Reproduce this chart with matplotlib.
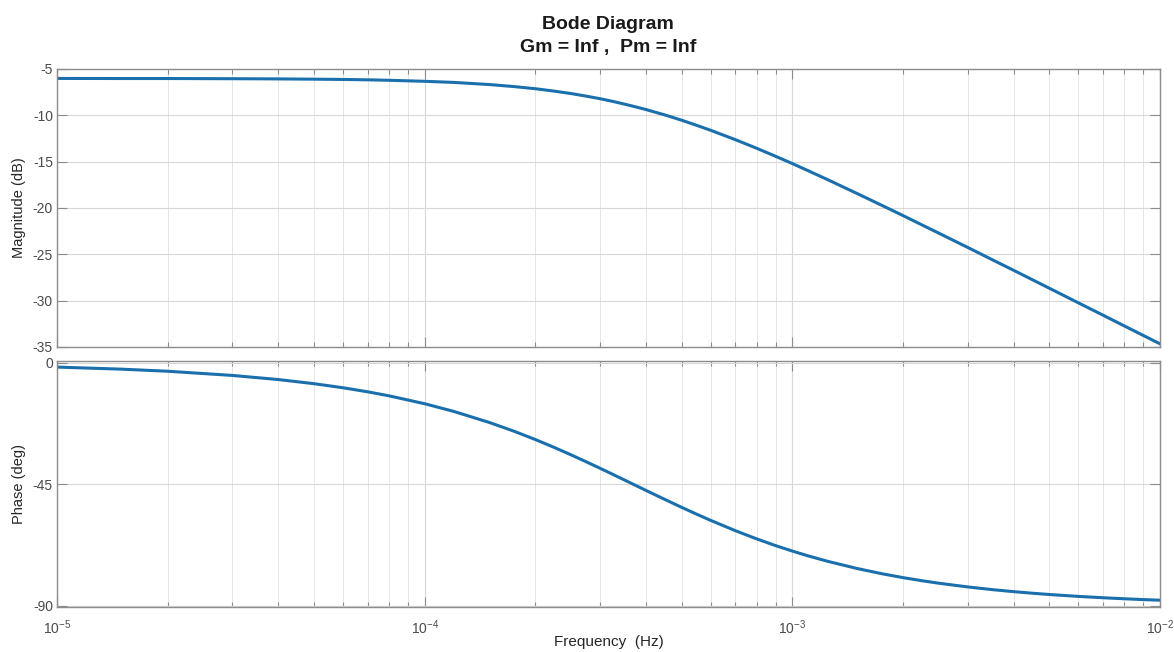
#!/usr/bin/env python3
import matplotlib
matplotlib.use("Agg")
import matplotlib.pyplot as plt
from matplotlib.ticker import FixedLocator, LogLocator, NullFormatter


# values
freq_hz = [1e-5, 1.5e-5, 2e-5, 3e-5, 4e-5, 5e-5, 6e-5, 7e-5, 8e-5, 1e-4,
           1.2e-4, 1.5e-4, 1.75e-4, 2e-4, 2.25e-4, 2.5e-4, 2.75e-4, 3e-4, 3.25e-4, 3.5e-4,
           3.75e-4, 4e-4, 4.5e-4, 5e-4, 5.5e-4, 6e-4, 7e-4, 8e-4, 9e-4, 1e-3,
           1.1e-3, 1.25e-3, 1.5e-3, 1.75e-3, 2e-3, 2.25e-3, 2.5e-3, 3e-3, 3.5e-3, 4e-3,
           4.5e-3, 5e-3, 6e-3, 7e-3, 8e-3, 9e-3, 1e-2]
mag_db = [-6.02, -6.03, -6.03, -6.05, -6.07, -6.10, -6.13, -6.17, -6.22, -6.33,
          -6.45, -6.68, -6.90, -7.13, -7.39, -7.65, -7.93, -8.21, -8.50, -8.80,
          -9.09, -9.38, -9.96, -10.53, -11.09, -11.62, -12.63, -13.56, -14.42, -15.21,
          -15.95, -16.96, -18.44, -19.71, -20.82, -21.82, -22.71, -24.26, -25.59, -26.73,
          -27.75, -28.66, -30.24, -31.57, -32.73, -33.75, -34.66]
phase_deg = [-1.55, -2.32, -3.09, -4.64, -6.17, -7.70, -9.21, -10.71, -12.20, -15.12,
             -17.97, -22.07, -25.31, -28.39, -31.30, -34.05, -36.62, -39.04, -41.30, -43.41,
             -45.39, -47.24, -50.57, -53.50, -56.07, -58.34, -62.14, -65.18, -67.65, -69.69,
             -71.41, -73.51, -76.14, -78.06, -79.52, -80.66, -81.58, -82.97, -83.97, -84.71,
             -85.30, -85.77, -86.47, -86.97, -87.35, -87.65, -87.88]

mag_ticks = [-35, -30, -25, -20, -15, -10, -5]
phase_ticks = [-90, -45, 0]
freq_ticks = [1e-5, 1e-4, 1e-3, 1e-2]
freq_ticklabels = [r"$10^{-5}$", r"$10^{-4}$", r"$10^{-3}$", r"$10^{-2}$"]

plt.rcParams["font.family"] = ["Liberation Sans", "DejaVu Sans"]
plt.rcParams["mathtext.fontset"] = "custom"
plt.rcParams["mathtext.rm"] = "Liberation Sans"
plt.rcParams["mathtext.default"] = "regular"

LINE = "#1a6fad"
SPINE = "#8c8c8c"
TXT = "#4a4a4a"

fig = plt.figure(figsize=(11.74, 6.52), dpi=100)
ax_mag = fig.add_axes([0.0486, 0.4678, 0.9395, 0.4264])
ax_ph = fig.add_axes([0.0486, 0.0690, 0.9395, 0.3773])


def style_axes(ax):
    ax.set_xscale("log")
    ax.set_xlim(1e-5, 1e-2)
    ax.xaxis.set_major_locator(FixedLocator(freq_ticks))
    ax.xaxis.set_minor_locator(LogLocator(base=10, subs=range(2, 10), numticks=20))
    ax.xaxis.set_minor_formatter(NullFormatter())
    ax.grid(True, which="major", color="#d8d8d8", linewidth=0.8)
    ax.grid(True, which="minor", axis="x", color="#e6e6e6", linewidth=0.7)
    ax.set_axisbelow(True)
    for sp in ax.spines.values():
        sp.set_color(SPINE)
        sp.set_linewidth(1.0)
    ax.tick_params(which="major", direction="in", length=7.5, width=0.8, color=SPINE,
                   top=True, right=True, labelsize=10, labelcolor=TXT, pad=3)
    ax.tick_params(which="minor", direction="in", length=3.5, width=0.8, color=SPINE,
                   top=True, right=True)


ax_mag.plot(freq_hz, mag_db, color=LINE, linewidth=2.2)
style_axes(ax_mag)
ax_mag.set_ylim(-35, -5)
ax_mag.set_yticks(mag_ticks)
ax_mag.set_yticklabels([str(t) for t in mag_ticks])
ax_mag.set_xticklabels([])
ax_mag.set_ylabel("Magnitude (dB)", fontsize=10.5, color="#262626")
ax_mag.yaxis.set_label_coords(-0.028, 0.5)

ax_ph.plot(freq_hz, phase_deg, color=LINE, linewidth=2.2)
style_axes(ax_ph)
ax_ph.set_ylim(-90.4, 0.7)
ax_ph.set_yticks(phase_ticks)
ax_ph.set_yticklabels([str(t) for t in phase_ticks])
ax_ph.set_xticklabels(freq_ticklabels)
ax_ph.tick_params(axis="x", which="major", pad=8)
ax_ph.set_ylabel("Phase (deg)", fontsize=10.5, color="#262626")
ax_ph.yaxis.set_label_coords(-0.028, 0.5)
ax_ph.set_xlabel("Frequency  (Hz)", fontsize=11, color="#262626")
ax_ph.xaxis.set_label_coords(0.5, -0.113)

fig.text(0.518, 0.963, "Bode Diagram", ha="center", va="center",
         fontsize=14, fontweight="bold", color="#1a1a1a")
fig.text(0.518, 0.927, "Gm = Inf ,  Pm = Inf", ha="center", va="center",
         fontsize=14, fontweight="bold", color="#1a1a1a")

fig.savefig("out.png", dpi=100)
